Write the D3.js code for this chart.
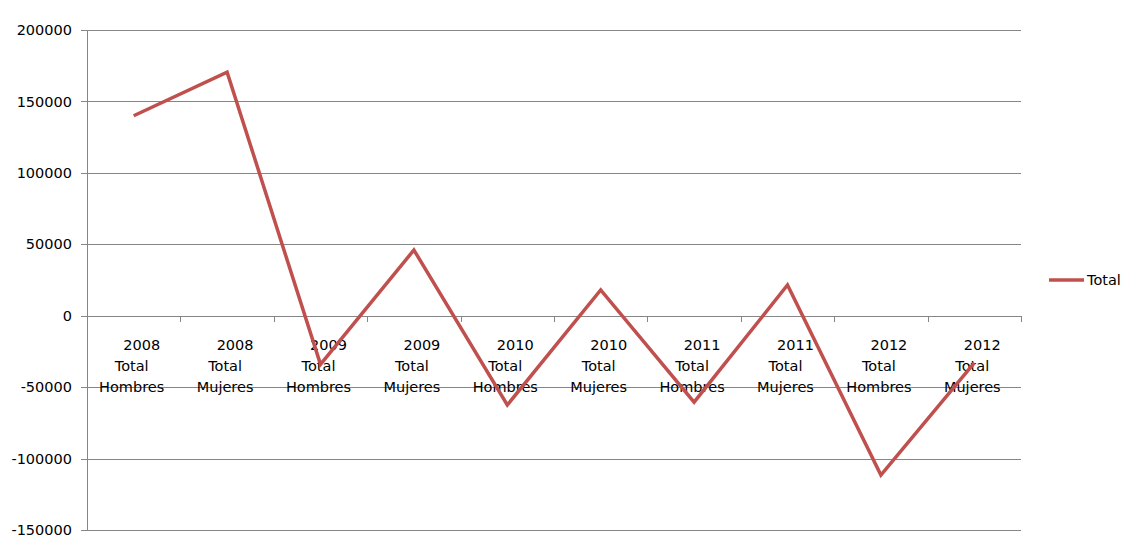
<!DOCTYPE html>
<html>
<head>
<meta charset="utf-8">
<script src="https://cdn.jsdelivr.net/npm/d3@7"></script>
<style>
	body { margin: 0; background: #fff; }
	text { font-family: "DejaVu Sans", sans-serif; font-size: 14.5px; fill: #000; }
	.grid line { stroke: #868686; stroke-width: 1; }
	.line { fill: none; stroke: #C0504D; stroke-width: 3.5; }
</style>
</head>
<body>
<svg class="chart" width="1131" height="543"></svg>
<script>
// Chart data
var years = ["2008", "2008", "2009", "2009", "2010", "2010", "2011", "2011", "2012", "2012"];
var groups = ["Total", "Total", "Total", "Total", "Total", "Total", "Total", "Total", "Total", "Total"];
var sexes = ["Hombres", "Mujeres", "Hombres", "Mujeres", "Hombres", "Mujeres", "Hombres", "Mujeres", "Hombres", "Mujeres"];
var values = [140000, 170500, -34000, 46000, -62500, 18000, -60500, 21500, -111500, -33000];
var yTicks = [-150000, -100000, -50000, 0, 50000, 100000, 150000, 200000];
var seriesName = "Total";

function drawGraph() {
	var left = 87, right = 1021, top = 30, bottom = 530;

	var data = values.map(function(v, i) {
		return {key: i, year: years[i], group: groups[i], sex: sexes[i], value: v};
	});

	var x = d3.scaleBand()
		.domain(data.map(function(d) { return d.key; }))
		.range([left, right])
		.padding(0);

	var y = d3.scaleLinear()
		.domain([-150000, 200000])
		.range([bottom, top]);

	var chart = d3.select(".chart");

	// Horizontal gridlines with left ticks
	chart.append("g")
		.attr("class", "grid")
		.selectAll("line")
		.data(yTicks)
	  .enter().append("line")
		.attr("x1", left - 6)
		.attr("x2", right)
		.attr("y1", function(d) { return Math.round(y(d)) + 0.5; })
		.attr("y2", function(d) { return Math.round(y(d)) + 0.5; });

	// Vertical axis line
	chart.append("g")
		.attr("class", "grid")
		.append("line")
		.attr("x1", left + 0.5).attr("x2", left + 0.5)
		.attr("y1", y(200000)).attr("y2", y(-150000));

	// Category tick marks under the zero line
	var bounds = data.map(function(d) { return x(d.key); }).concat([right]);
	chart.append("g")
		.attr("class", "grid")
		.selectAll("line")
		.data(bounds.slice(1))
	  .enter().append("line")
		.attr("x1", function(d) { return Math.round(d) + 0.5; })
		.attr("x2", function(d) { return Math.round(d) + 0.5; })
		.attr("y1", Math.round(y(0)))
		.attr("y2", Math.round(y(0)) + 6);

	// Y tick labels
	chart.append("g")
		.selectAll("text")
		.data(yTicks)
	  .enter().append("text")
		.attr("x", 72)
		.attr("y", function(d) { return y(d); })
		.attr("dy", "0.35em")
		.attr("text-anchor", "end")
		.text(function(d) { return d; });

	// X labels, three lines each
	var labels = chart.append("g")
		.selectAll("text")
		.data(data)
	  .enter().append("text")
		.attr("text-anchor", "middle");
	labels.append("tspan")
		.attr("x", function(d) { return x(d.key) + x.bandwidth() / 2 + 8; })
		.attr("y", y(0) + 34)
		.text(function(d) { return d.year; });
	labels.append("tspan")
		.attr("x", function(d) { return x(d.key) + x.bandwidth() / 2 - 2; })
		.attr("y", y(0) + 55)
		.text(function(d) { return d.group; });
	labels.append("tspan")
		.attr("x", function(d) { return x(d.key) + x.bandwidth() / 2 - 2; })
		.attr("y", y(0) + 76)
		.text(function(d) { return d.sex; });

	// Draw line
	var valueline = d3.line()
		.x(function(d) { return x(d.key) + x.bandwidth() / 2; })
		.y(function(d) { return y(d.value); });

	chart.append("path")
		.datum(data)
		.attr("class", "line")
		.attr("d", valueline);

	// Legend
	var legend = chart.append("g")
		.attr("transform", "translate(1049,280)");
	legend.append("line")
		.attr("class", "line")
		.attr("x1", 0).attr("x2", 35)
		.attr("y1", 0).attr("y2", 0);
	legend.append("text")
		.attr("x", 38)
		.attr("dy", "0.35em")
		.text(seriesName);
}

drawGraph();
</script>
</body>
</html>
